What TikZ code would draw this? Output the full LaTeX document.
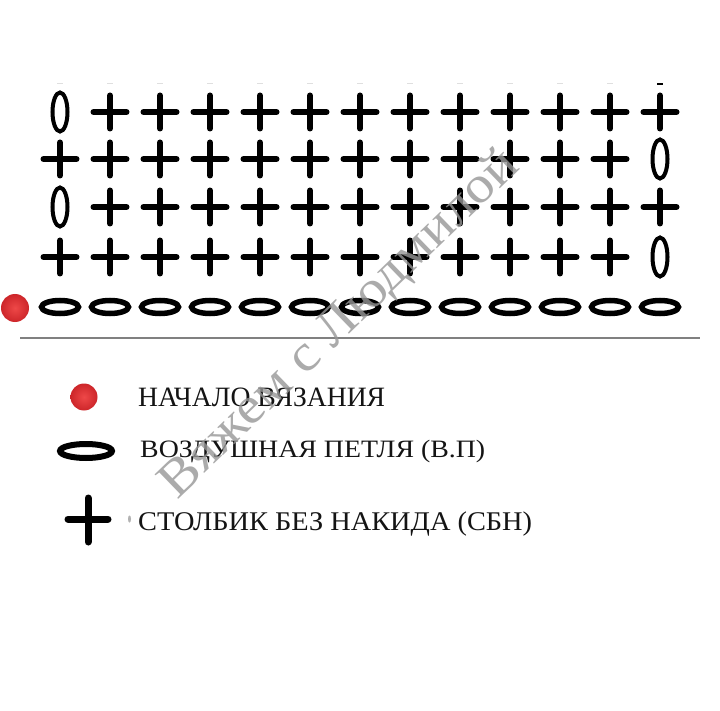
\documentclass[tikz,border=0pt]{standalone}
\usepackage{fontspec}
\setmainfont{Liberation Serif}
\usepackage{graphicx}
\definecolor{dotin}{RGB}{238,72,72}
\definecolor{dotout}{RGB}{205,38,42}
\definecolor{wmark}{RGB}{150,150,150}
\begin{document}
\begin{tikzpicture}[x=1pt,y=-1pt,
  crs/.style={line width=6pt,line cap=round},
  vloop/.style={line width=4pt},
  hloop/.style={line width=5.5pt},
  legtext/.style={anchor=base west,inner sep=0pt,text=black!92},
  sc/.pic={\draw[crs] (-16.5,0) -- (16.5,0) (0,-16.5) -- (0,16.5);}]
\useasboundingbox[fill=white] (0,0) rectangle (720,711);

% faint marks at the top
\foreach \k in {0,...,11} \draw[gray!25,line width=1pt] ({57+50*\k},84) -- ++(6,0);
\draw[line width=2pt] (657,84) -- (663,84);

% rows 1 and 3: loop at left, crosses
\foreach \y in {112,207} {
  \draw[vloop] (60,\y) ellipse [x radius=7.5, y radius=19.5];
  \foreach \k in {1,...,12} \pic at ({60+50*\k},\y) {sc};
}
% rows 2 and 4: crosses, loop at right
\foreach \y in {159,257} {
  \foreach \k in {0,...,11} \pic at ({60+50*\k},\y) {sc};
  \draw[vloop] (660,\y) ellipse [x radius=7.5, y radius=19.5];
}
% foundation chain
\foreach \k in {0,...,12} \draw[hloop] ({60+50*\k},307) ellipse [x radius=18.5, y radius=6.5];
% start dot
\shade[inner color=dotin, outer color=dotout] (15,308) circle [radius=14];

% separator
\draw[gray, line width=1.2pt] (20,338) -- (700,338);

% legend
\shade[inner color=dotin, outer color=dotout] (84,397) circle [radius=13.5];
\draw[line width=6pt] (86,451) ellipse [x radius=26, y radius=7];
\draw[line width=7pt, line cap=round] (68,519) -- (108,519) (88,498) -- (88,542);
\fill[gray!60] (129.5,519) ellipse [x radius=1.5, y radius=3.5];

\node[legtext, font=\fontsize{28}{32}\selectfont] (l1) at (138,406) {\resizebox{247pt}{\height}{НАЧАЛО ВЯЗАНИЯ}};
\node[legtext, font=\fontsize{25}{30}\selectfont] (l2) at (140,457) {\resizebox{345pt}{\height}{ВОЗДУШНАЯ ПЕТЛЯ (В.П)}};
\node[legtext, font=\fontsize{27}{32}\selectfont] (l3) at (138,530) {\resizebox{394pt}{\height}{СТОЛБИК БЕЗ НАКИДА (СБН)}};

% watermark
\node[anchor=base, rotate=44, inner sep=0pt, opacity=0.8, text=wmark,
  font=\fontsize{52}{58}\selectfont] (wm) at (349,334) {\resizebox{478pt}{\height}{Вяжем с Людмилой}};
\end{tikzpicture}
\end{document}
